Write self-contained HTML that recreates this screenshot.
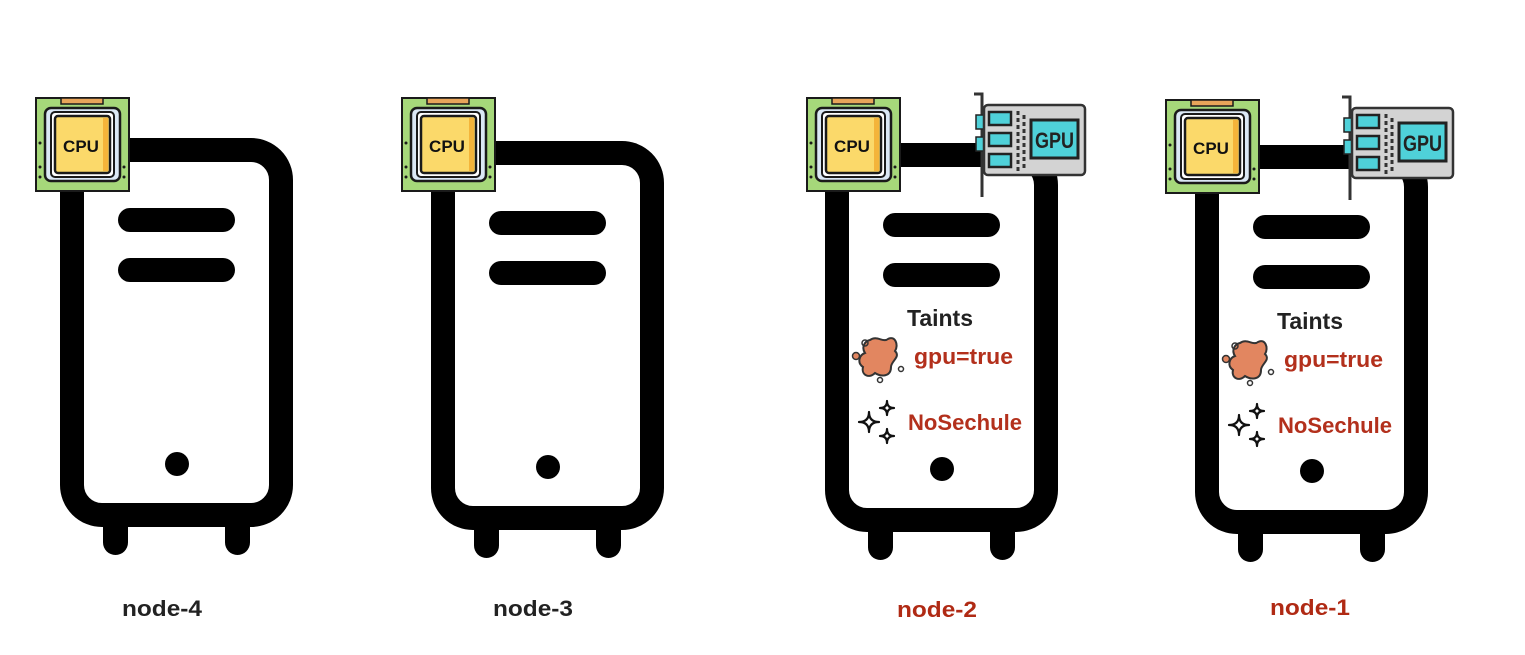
<!DOCTYPE html>
<html><head><meta charset="utf-8"><style>
html,body{margin:0;padding:0;background:#fff;width:1525px;height:655px;overflow:hidden}
text{font-family:"Liberation Sans",sans-serif;font-weight:bold}
</style></head><body>
<svg width="1525" height="655" viewBox="0 0 1525 655" xmlns="http://www.w3.org/2000/svg">
<defs>
<g id="server">
  <rect x="43" y="370" width="25" height="47" rx="12.5" fill="#000"/>
  <rect x="165" y="370" width="25" height="47" rx="12.5" fill="#000"/>
  <rect x="12" y="12" width="209" height="365" rx="30" fill="#fff" stroke="#000" stroke-width="24"/>
  <rect x="58" y="70" width="117" height="24" rx="12" fill="#000"/>
  <rect x="58" y="120" width="117" height="24" rx="12" fill="#000"/>
  <circle cx="117" cy="326" r="12" fill="#000"/>
</g>
<g id="cpu">
  <rect x="1" y="1" width="93" height="93" fill="#a6d87a" stroke="#1a1a1a" stroke-width="2"/>
  <rect x="26" y="1" width="42" height="6" fill="#e8a55a" stroke="#1a1a1a" stroke-width="1.5"/>
  <rect x="10" y="11" width="75" height="73" rx="6" fill="#dbe8f5" stroke="#1a1a1a" stroke-width="2.5"/>
  <rect x="16" y="15" width="63" height="65" rx="4" fill="#fff" stroke="#1a1a1a" stroke-width="2"/>
  <rect x="20" y="19" width="55" height="57" rx="3" fill="#fbd96a" stroke="#1a1a1a" stroke-width="2.5"/>
  <rect x="68" y="21" width="5" height="53" fill="#f4b43a"/>
  <circle cx="5" cy="46" r="1.5" fill="#1a1a1a"/><circle cx="5" cy="70" r="1.5" fill="#1a1a1a"/><circle cx="5" cy="80" r="1.5" fill="#1a1a1a"/>
  <circle cx="89" cy="70" r="1.5" fill="#1a1a1a"/><circle cx="89" cy="80" r="1.5" fill="#1a1a1a"/>
  <text x="46" y="55" font-size="17" text-anchor="middle" fill="#111">CPU</text>
</g>
<g id="gpu">
  <path d="M2 1 H10 V104" fill="none" stroke="#333" stroke-width="3"/>
  <rect x="4" y="22" width="8" height="14" fill="#4fd1d9" stroke="#222" stroke-width="1.5"/>
  <rect x="4" y="44" width="8" height="14" fill="#4fd1d9" stroke="#222" stroke-width="1.5"/>
  <rect x="12" y="12" width="101" height="70" rx="4" fill="#d3d3d3" stroke="#333" stroke-width="2.5"/>
  <rect x="17" y="19" width="22" height="13" fill="#4fd1d9" stroke="#222" stroke-width="2.5"/>
  <rect x="17" y="40" width="22" height="13" fill="#4fd1d9" stroke="#222" stroke-width="2.5"/>
  <rect x="17" y="61" width="22" height="13" fill="#4fd1d9" stroke="#222" stroke-width="2.5"/>
  <path d="M46 18 V78 M52 22 V76" stroke="#333" stroke-width="3" stroke-dasharray="4 3"/>
  <rect x="59" y="27" width="47" height="38" fill="#4fd1d9" stroke="#222" stroke-width="3"/>
  <text x="63" y="55" font-size="22" textLength="39" lengthAdjust="spacingAndGlyphs" fill="#222">GPU</text>
</g>
<g id="taints">
  <text x="115" y="183" font-size="23" text-anchor="middle" fill="#222">Taints</text>
  <path d="M45 197 C52 192 58 200 63 196 C70 192 74 202 70 208 C76 214 66 218 66 224 C66 234 56 234 50 230 C44 236 36 232 38 224 C32 220 34 212 40 210 C36 204 40 198 45 197Z" fill="#e28660" stroke="#333" stroke-width="2"/>
  <circle cx="40" cy="200" r="3" fill="none" stroke="#333" stroke-width="1.5"/>
  <circle cx="31" cy="213" r="3.5" fill="#e28660" stroke="#333" stroke-width="1.5"/>
  <circle cx="76" cy="226" r="2.5" fill="none" stroke="#333" stroke-width="1.5"/>
  <circle cx="55" cy="237" r="2.5" fill="none" stroke="#333" stroke-width="1.5"/>
  <text x="89" y="221" font-size="22" textLength="99" lengthAdjust="spacingAndGlyphs" fill="#b3301c">gpu=true</text>
  <path d="M44 269 Q44 279 34 279 Q44 279 44 289 Q44 279 54 279 Q44 279 44 269Z" fill="none" stroke="#111" stroke-width="2.2" stroke-linejoin="round"/>
  <path d="M62 258 Q62 265 55 265 Q62 265 62 272 Q62 265 69 265 Q62 265 62 258Z" fill="none" stroke="#111" stroke-width="2.2" stroke-linejoin="round"/>
  <path d="M62 286 Q62 293 55 293 Q62 293 62 300 Q62 293 69 293 Q62 293 62 286Z" fill="none" stroke="#111" stroke-width="2.2" stroke-linejoin="round"/>
  <text x="83" y="287" font-size="22" textLength="114" lengthAdjust="spacingAndGlyphs" fill="#b3301c">NoSechule</text>
</g>
</defs>

<use href="#server" x="60" y="138"/>
<use href="#cpu" x="35" y="97"/>
<text x="162" y="616" font-size="22" text-anchor="middle" textLength="80" lengthAdjust="spacingAndGlyphs" fill="#222">node-4</text>

<use href="#server" x="431" y="141"/>
<use href="#cpu" x="401" y="97"/>
<text x="533" y="616" font-size="22" text-anchor="middle" textLength="80" lengthAdjust="spacingAndGlyphs" fill="#222">node-3</text>

<use href="#server" x="825" y="143"/>
<use href="#cpu" x="806" y="97"/>
<use href="#gpu" x="972" y="93"/>
<use href="#taints" x="825" y="143"/>
<text x="937" y="617" font-size="22" text-anchor="middle" textLength="80" lengthAdjust="spacingAndGlyphs" fill="#b02a14">node-2</text>

<use href="#server" x="1195" y="145"/>
<use href="#cpu" x="1165" y="99"/>
<use href="#gpu" x="1340" y="96"/>
<use href="#taints" x="1195" y="146"/>
<text x="1310" y="615" font-size="22" text-anchor="middle" textLength="80" lengthAdjust="spacingAndGlyphs" fill="#b02a14">node-1</text>
</svg>
</body></html>
